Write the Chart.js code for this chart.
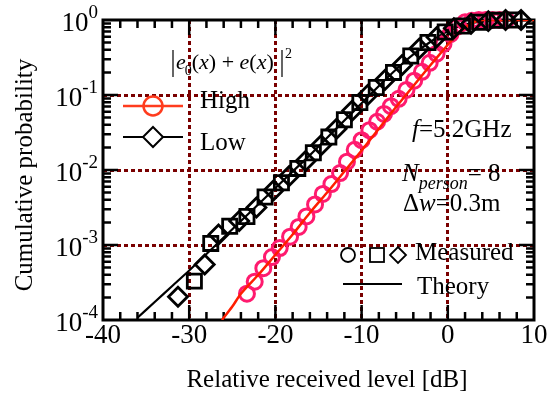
<!DOCTYPE html>
<html>
<head>
<meta charset="utf-8">
<script src="https://cdn.jsdelivr.net/npm/chart.js@4"></script>
<style>
  html, body { margin: 0; padding: 0; background: #fff; }
  canvas { display: block; }
  .warm { position: absolute; left: -1000px; font-family: "Liberation Serif"; }
</style>
</head>
<body>
<span class="warm">10 <i>f</i></span>
<canvas id="cdfChart" width="552" height="394"></canvas>
<script>
// axis ticks
const xTickValues = [-40, -30, -20, -10, 0, 10];
const xTickLabels = ['-40', '-30', '-20', '-10', '0', '10'];
const yTickValues = [1, 0.1, 0.01, 0.001, 0.0001];
const yTickExps = ['0', '-1', '-2', '-3', '-4'];

// High: measured (circles) and theory (line)
const highMeasX = [-23.3, -22.4, -21.4, -20.4, -19.5, -18.3, -17.3, -16.4, -15.4, -14.5, -13.5, -12.5,
    -11.7, -10.8, -10.0, -9.1, -8.2, -7.4, -6.6, -5.7, -4.8, -3.9, -3.0, -2.1, -1.3, -0.5,
    0.3, 1.1, 2.0, 2.8, 3.6, 4.4, 5.2, 6.0, 6.8];
const highMeasP = [2.24e-4, 3.24e-4, 4.9e-4, 6.9e-4, 9.1e-4, 1.29e-3, 1.74e-3, 2.4e-3, 3.47e-3, 4.8e-3, 6.5e-3, 9.1e-3,
    1.29e-2, 1.86e-2, 2.5e-2, 3.4e-2, 4.4e-2, 5.6e-2, 7.1e-2, 8.9e-2, 0.117, 0.155, 0.204, 0.269, 0.355, 0.479,
    0.646, 0.813, 0.933, 0.977, 1, 1, 1, 1, 1];
const highTheoX = [-26.2, -25, -24, -22, -20, -18, -16, -14, -12, -10, -8, -6, -4, -2, 0, 1, 2, 3, 4, 10];
const highTheoP = [1.0e-4, 1.51e-4, 2.24e-4, 3.98e-4, 7.41e-4, 1.38e-3, 2.69e-3, 5.01e-3, 9.55e-3, 1.82e-2,
    3.55e-2, 6.92e-2, 0.132, 0.251, 0.468, 0.631, 0.794, 0.933, 1, 1];

// Low: measured (diamonds / squares) and theory (line)
const lowMeasX = [-31.3, -29.4, -28.2, -27.5, -26.6, -25.3, -24.2, -23.3, -22.2, -21.2, -20.2, -19.3, -18.4,
    -17.4, -16.5, -15.6, -14.7, -13.8, -12.9, -12.0, -11.1, -10.2, -9.3, -8.3, -7.3, -6.3, -5.3, -4.3,
    -3.3, -2.3, -1.3, -0.3, 0.7, 1.7, 2.7, 3.7, 4.7, 5.7, 6.7, 7.7, 8.5];
const lowMeasP = [2.04e-4, 3.3e-4, 5.5e-4, 1.05e-3, 1.38e-3, 1.78e-3, 2.09e-3, 2.4e-3, 3.16e-3, 4.37e-3, 5.37e-3,
    6.76e-3, 8.3e-3, 1.05e-2, 1.32e-2, 1.7e-2, 2.14e-2, 2.75e-2, 3.55e-2, 4.68e-2, 6.17e-2, 7.94e-2, 0.1,
    0.126, 0.158, 0.2, 0.251, 0.331, 0.417, 0.501, 0.589, 0.692, 0.776, 0.832, 0.891, 0.933, 0.966, 0.99, 1, 1, 1];
const lowTheoX = [-36, -34, -32, -30, -28, -26, -24, -22, -20, -18, -16, -14, -12, -10, -8, -6, -4, -2, 0, 2, 4, 6, 10];
const lowTheoP = [1.07e-4, 1.74e-4, 2.82e-4, 4.57e-4, 7.59e-4, 1.26e-3, 2.09e-3, 3.47e-3, 5.75e-3, 9.55e-3,
    1.58e-2, 2.69e-2, 4.57e-2, 7.76e-2, 0.132, 0.219, 0.347, 0.513, 0.708, 0.871, 0.955, 0.99, 1];

const SERIF = '"Liberation Serif", "Times New Roman", Times, "DejaVu Serif", serif';
const GRID_COLOR = '#7a0000';

function toPoints(xs, ys) {
    return xs.map((x, i) => ({ x: x, y: ys[i] }));
}

function txt(ctx, s, x, y, font, align = 'left') {
    ctx.font = font;
    ctx.textAlign = align;
    ctx.textBaseline = 'middle';
    ctx.fillText(s, x, y);
    return ctx.measureText(s).width;
}

// frame + inside ticks, drawn under the data
const framePlugin = {
    id: 'frame',
    beforeDatasetsDraw(chart) {
        const { ctx, chartArea: a, scales: { x, y } } = chart;
        ctx.save();
        ctx.strokeStyle = '#000';
        ctx.lineWidth = 2.5;
        ctx.beginPath();
        for (let v = -38; v < 10; v += 2) {
            const px = x.getPixelForValue(v);
            const len = v % 10 === 0 ? 15 : 8;
            ctx.moveTo(px, a.bottom); ctx.lineTo(px, a.bottom - len);
            ctx.moveTo(px, a.top); ctx.lineTo(px, a.top + len);
        }
        for (let d = -4; d < 0; d++) {
            for (let m = 1; m < 10; m++) {
                if (m === 1 && d === -4) continue;
                const py = y.getPixelForValue(m * Math.pow(10, d));
                const len = m === 1 ? 15 : 8;
                ctx.moveTo(a.left, py); ctx.lineTo(a.left + len, py);
                ctx.moveTo(a.right, py); ctx.lineTo(a.right - len, py);
            }
        }
        ctx.stroke();
        ctx.lineWidth = 3;
        ctx.strokeRect(a.left, a.top, a.width, a.height);
        ctx.restore();
    }
};

// tick labels, titles and in-plot annotations
const textPlugin = {
    id: 'texts',
    afterDraw(chart) {
        const { ctx, chartArea: a, scales: { x, y } } = chart;
        ctx.save();
        ctx.fillStyle = '#000';
        const tickFont = '27px ' + SERIF;
        const supFont = '19px ' + SERIF;

        xTickValues.forEach((v, i) => {
            txt(ctx, xTickLabels[i], x.getPixelForValue(v), a.bottom + 16, tickFont, 'center');
        });
        yTickValues.forEach((v, i) => {
            const py = y.getPixelForValue(v);
            ctx.font = supFont;
            const sw = ctx.measureText(yTickExps[i]).width;
            txt(ctx, yTickExps[i], 98 - sw, py - 7, supFont);
            txt(ctx, '10', 98 - sw, py + 4, tickFont, 'right');
        });

        txt(ctx, 'Relative received level [dB]', 327, 380, '25px ' + SERIF, 'center');
        ctx.save();
        ctx.translate(25, 175);
        ctx.rotate(-Math.PI / 2);
        txt(ctx, 'Cumulative probability', 0, 0, '25px ' + SERIF, 'center');
        ctx.restore();

        // |e0(x) + e(x)|^2
        const mi = 'italic 22px ' + SERIF, mr = '22px ' + SERIF;
        ctx.strokeStyle = '#000';
        ctx.lineWidth = 1.2;
        ctx.beginPath();
        ctx.moveTo(173, 50); ctx.lineTo(173, 77);
        ctx.moveTo(282, 50); ctx.lineTo(282, 77);
        ctx.stroke();
        let cx = 176;
        cx += txt(ctx, 'e', cx, 63, mi);
        txt(ctx, '0', cx - 1, 71, '14px ' + SERIF);
        cx += 6;
        cx += txt(ctx, '(', cx, 63, mr);
        cx += txt(ctx, 'x', cx, 63, mi);
        cx += txt(ctx, ')', cx, 63, mr);
        cx += txt(ctx, ' + ', cx, 63, mr);
        cx += txt(ctx, 'e', cx, 63, mi);
        cx += txt(ctx, '(', cx, 63, mr);
        cx += txt(ctx, 'x', cx, 63, mi);
        txt(ctx, ')', cx, 63, mr);
        txt(ctx, '2', 285, 54, '14px ' + SERIF);

        // High / Low legend
        ctx.strokeStyle = '#ff3c1e';
        ctx.lineWidth = 2.5;
        ctx.beginPath();
        ctx.moveTo(123, 106); ctx.lineTo(183, 106);
        ctx.stroke();
        ctx.beginPath();
        ctx.arc(153, 106, 9.5, 0, Math.PI * 2);
        ctx.stroke();
        txt(ctx, 'High', 200, 101, '25px ' + SERIF);

        ctx.strokeStyle = '#000';
        ctx.lineWidth = 2;
        ctx.beginPath();
        ctx.moveTo(123, 137); ctx.lineTo(183, 137);
        ctx.stroke();
        ctx.beginPath();
        ctx.moveTo(153, 127); ctx.lineTo(163, 137); ctx.lineTo(153, 147); ctx.lineTo(143, 137);
        ctx.closePath();
        ctx.fillStyle = '#fff';
        ctx.fill();
        ctx.stroke();
        ctx.fillStyle = '#000';
        txt(ctx, 'Low', 200, 143, '25px ' + SERIF);

        // conditions
        const ai = 'italic 25px ' + SERIF, ar = '25px ' + SERIF;
        let fx = 412;
        fx += txt(ctx, 'f', fx, 130, ai);
        txt(ctx, '=5.2GHz', fx, 130, ar);

        let nx = 402;
        nx += txt(ctx, 'N', nx, 174, ai);
        nx += txt(ctx, 'person', nx, 184, 'italic 18px ' + SERIF);
        txt(ctx, '= 8', nx, 174, ar);

        let dx = 403;
        dx += txt(ctx, '\u0394', dx, 204, ar);
        dx += txt(ctx, 'w', dx, 204, ai);
        txt(ctx, '=0.3m', dx, 204, ar);

        // Measured / Theory key
        ctx.lineWidth = 1.8;
        ctx.beginPath();
        ctx.arc(348, 255, 7, 0, Math.PI * 2);
        ctx.stroke();
        ctx.strokeRect(370, 248, 14, 14);
        ctx.beginPath();
        ctx.moveTo(398, 247); ctx.lineTo(406, 255); ctx.lineTo(398, 263); ctx.lineTo(390, 255);
        ctx.closePath();
        ctx.stroke();
        txt(ctx, 'Measured', 415, 253, ar);

        ctx.lineWidth = 2;
        ctx.beginPath();
        ctx.moveTo(343, 284); ctx.lineTo(402, 284);
        ctx.stroke();
        txt(ctx, 'Theory', 417, 287, ar);

        ctx.restore();
    }
};

function edgeHidden(values) {
    return function (c) {
        const v = c.tick ? c.tick.value : null;
        return (v === values[0] || v === values[values.length - 1]) ? 'rgba(0,0,0,0)' : GRID_COLOR;
    };
}

function drawChart() {
    const chartCtx = document.getElementById('cdfChart').getContext('2d');
    window.cdfChart = new Chart(chartCtx, {
        type: 'scatter',
        data: {
            datasets: [
                {
                    label: 'Low measured',
                    data: toPoints(lowMeasX, lowMeasP),
                    pointStyle: c => (c.dataIndex % 2 ? 'rect' : 'rectRot'),
                    pointRadius: c => (c.dataIndex % 2 ? 10 : 9.5),
                    borderColor: '#000',
                    backgroundColor: 'rgba(0,0,0,0)',
                    pointBorderWidth: 2.8,
                    showLine: false,
                    clip: false
                },
                {
                    label: 'High theory',
                    data: toPoints(highTheoX, highTheoP),
                    showLine: true,
                    borderColor: '#ff1e00',
                    borderWidth: 2.5,
                    pointRadius: 0,
                    tension: 0.3
                },
                {
                    label: 'High measured',
                    data: toPoints(highMeasX, highMeasP),
                    pointStyle: 'circle',
                    pointRadius: 7.5,
                    borderColor: '#ff1a6e',
                    backgroundColor: 'rgba(0,0,0,0)',
                    pointBorderWidth: 3,
                    showLine: false,
                    clip: false
                },
                {
                    label: 'Low theory',
                    data: toPoints(lowTheoX, lowTheoP),
                    showLine: true,
                    borderColor: '#000',
                    borderWidth: 2.2,
                    pointRadius: 0,
                    tension: 0.3
                }
            ]
        },
        options: {
            responsive: false,
            animation: false,
            events: [],
            layout: { padding: { left: 103, top: 20, right: 18, bottom: 74 } },
            plugins: {
                legend: { display: false },
                tooltip: { enabled: false }
            },
            scales: {
                x: {
                    type: 'linear',
                    min: -40,
                    max: 10,
                    afterBuildTicks: s => { s.ticks = xTickValues.map(v => ({ value: v })); },
                    ticks: { display: false },
                    grid: { color: edgeHidden(xTickValues), lineWidth: 3, drawTicks: false },
                    border: { display: false, dash: [4, 3] }
                },
                y: {
                    type: 'logarithmic',
                    min: 1e-4,
                    max: 1,
                    afterBuildTicks: s => { s.ticks = yTickValues.map(v => ({ value: v })); },
                    ticks: { display: false },
                    grid: { color: edgeHidden(yTickValues), lineWidth: 3, drawTicks: false },
                    border: { display: false, dash: [4, 3] }
                }
            }
        },
        plugins: [framePlugin, textPlugin]
    });
}

Promise.all([
    document.fonts.load('25px "Liberation Serif"'),
    document.fonts.load('italic 25px "Liberation Serif"')
]).catch(() => null).then(drawChart);
</script>
</body>
</html>
